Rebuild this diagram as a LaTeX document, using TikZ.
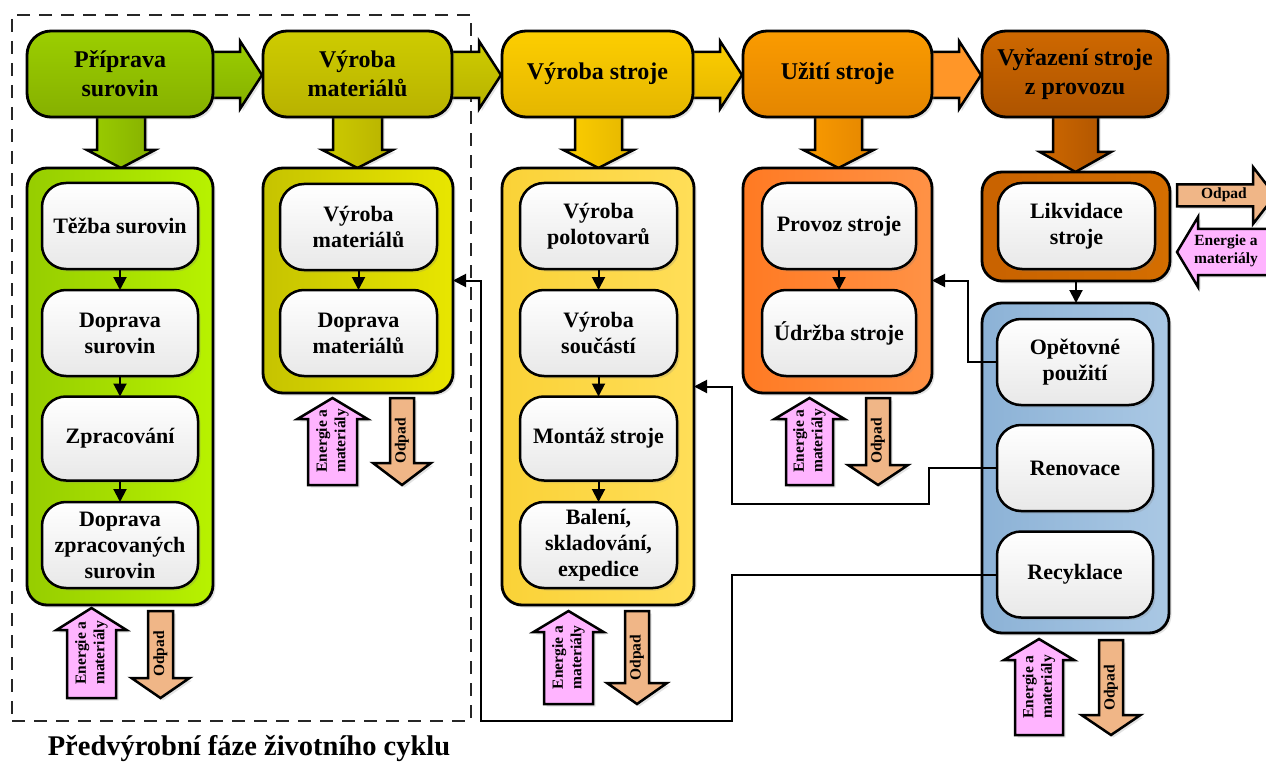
\documentclass[tikz,border=0pt]{standalone}
\usepackage{fontspec}
\setmainfont{Liberation Serif}
\usetikzlibrary{shadows,arrows.meta}
\definecolor{gA1}{RGB}{155,206,0}\definecolor{gA2}{RGB}{134,176,0}
\definecolor{gP1}{RGB}{150,205,0}\definecolor{gP2}{RGB}{184,242,0}
\definecolor{gAr}{RGB}{140,188,0}
\definecolor{oA1}{RGB}{206,204,0}\definecolor{oA2}{RGB}{184,178,0}
\definecolor{oP1}{RGB}{198,195,0}\definecolor{oP2}{RGB}{232,230,0}
\definecolor{oAr}{RGB}{192,188,0}
\definecolor{yA1}{RGB}{253,206,0}\definecolor{yA2}{RGB}{228,182,0}
\definecolor{yP1}{RGB}{250,210,55}\definecolor{yP2}{RGB}{255,222,88}
\definecolor{yAr}{RGB}{236,192,0}
\definecolor{uA1}{RGB}{250,155,0}\definecolor{uA2}{RGB}{228,134,0}
\definecolor{uP1}{RGB}{255,122,35}\definecolor{uP2}{RGB}{255,146,70}
\definecolor{uAr}{RGB}{255,150,40}
\definecolor{rA1}{RGB}{206,104,0}\definecolor{rA2}{RGB}{174,84,0}
\definecolor{rP1}{RGB}{200,98,0}\definecolor{rP2}{RGB}{212,110,0}
\definecolor{bP1}{RGB}{140,178,214}\definecolor{bP2}{RGB}{170,200,228}
\definecolor{pinkc}{RGB}{255,180,255}
\definecolor{odpc}{RGB}{240,182,135}
\newcommand\blockV[7]{\draw[#7] ({#1-#2},#4) -- ({#1+#2},#4) -- ({#1+#2},#5) -- ({#1+#3},#5) -- (#1,#6) -- ({#1-#3},#5) -- ({#1-#2},#5) -- cycle;}
\newcommand\blockH[7]{\draw[#7] (#4,{#1-#2}) -- (#4,{#1+#2}) -- (#5,{#1+#2}) -- (#5,{#1+#3}) -- (#6,#1) -- (#5,{#1-#3}) -- (#5,{#1-#2}) -- cycle;}
\begin{document}
\begin{tikzpicture}[x=1pt,y=-1pt,
  every node/.style={inner sep=0pt,outer sep=0pt},
  shd/.style={drop shadow={opacity=0.22,shadow xshift=2.5pt,shadow yshift=-2.5pt}},
  hdr/.style={draw,line width=2.8pt,rounded corners=24pt,align=center,font=\fontsize{24}{29}\selectfont\bfseries,minimum height=86pt,shd},
  panel/.style={draw,line width=2.8pt,rounded corners=20pt,shd},
  ibox/.style={draw,line width=2.5pt,rounded corners=24pt,top color=white,bottom color=black!9,align=center,font=\fontsize{22}{26}\selectfont\bfseries,minimum width=156pt,minimum height=86pt,shd},
  blk/.style={draw,line width=2.5pt,shd},
  flow/.style={line width=2pt,-{Triangle[length=13pt,width=13pt]}},
  small/.style={font=\fontsize{15.5}{18.5}\selectfont\bfseries,align=center},
  frame/.style={draw=black!85,line width=1.8pt,dash pattern=on 13pt off 9pt}
]
\useasboundingbox (0,0) rectangle (1266,762);
% pre-production frame
\node[frame,minimum width=459pt,minimum height=706pt] (phase) at (241.5,368) {};
% arrows between headers
\blockH{75}{23}{34}{205}{240}{262}{blk,top color=gA1,bottom color=gA2}
\blockH{75}{23}{34}{445}{479}{501}{blk,top color=oA1,bottom color=oA2}
\blockH{75}{23}{34}{686}{720}{742}{blk,top color=yA1,bottom color=yA2}
\blockH{75}{23}{34}{925}{959}{981}{blk,fill=uAr}
% arrows headers -> panels
\blockV{121}{24}{34}{110}{150}{168}{blk,left color=gA1,right color=gA2}
\blockV{357.5}{24.5}{35}{110}{150}{168}{blk,left color=oA1,right color=oA2}
\blockV{598.5}{23.5}{35}{110}{150}{168}{blk,left color=yA1,right color=yA2}
\blockV{838.5}{23.5}{35}{110}{150}{168}{blk,left color=uA1,right color=uA2}
\blockV{1075.5}{22.5}{35.5}{110}{152}{172}{blk,left color=rA1,right color=rA2}
% headers
\node[hdr,minimum width=186pt,top color=gA1,bottom color=gA2] (h1) at (120,74) {Příprava\\surovin};
\node[hdr,minimum width=189pt,top color=oA1,bottom color=oA2] (h2) at (357.5,74) {Výroba\\materiálů};
\node[hdr,minimum width=191pt,top color=yA1,bottom color=yA2] (h3) at (597.5,74) {Výroba stroje};
\node[hdr,minimum width=189pt,top color=uA1,bottom color=uA2] (h4) at (837.5,74) {Užití stroje};
\node[hdr,minimum width=186pt,top color=rA1,bottom color=rA2] (h5) at (1075,74) {Vyřazení stroje\\z provozu};
% panels
\node[panel,minimum width=186pt,minimum height=437pt,left color=gP1,right color=gP2] (prepP) at (120,386.5) {};
\node[panel,minimum width=190pt,minimum height=225pt,left color=oP1,right color=oP2] (vmP) at (358,280.5) {};
\node[panel,minimum width=192pt,minimum height=437pt,left color=yP1,right color=yP2] (vsP) at (598,386.5) {};
\node[panel,minimum width=189pt,minimum height=225pt,left color=uP1,right color=uP2] (uzP) at (837.5,280.5) {};
\node[panel,minimum width=188pt,minimum height=109pt,left color=rP1,right color=rP2] (vyrP) at (1076,226.5) {};
\node[panel,minimum width=187pt,minimum height=330pt,left color=bP1,right color=bP2] (blueP) at (1075.5,468) {};
% inner boxes
\node[ibox] (p1) at (120,226) {Těžba surovin};
\node[ibox] (p2) at (120,333) {Doprava\\surovin};
\node[ibox,minimum height=84pt] (p3) at (120,438.5) {Zpracování};
\node[ibox] (p4) at (120,545) {Doprava\\zpracovaných\\surovin};
\node[ibox,minimum width=157pt] (m1) at (358.5,227) {Výroba\\materiálů};
\node[ibox,minimum width=157pt] (m2) at (358.5,333) {Doprava\\materiálů};
\node[ibox,minimum width=157pt] (s1) at (598.5,226) {Výroba\\polotovarů};
\node[ibox,minimum width=157pt] (s2) at (598.5,333) {Výroba\\součástí};
\node[ibox,minimum width=157pt,minimum height=84pt] (s3) at (598.5,438.5) {Montáž stroje};
\node[ibox,minimum width=157pt] (s4) at (598.5,545) {Balení,\\skladování,\\expedice};
\node[ibox,minimum width=154pt] (u1) at (839,226) {Provoz stroje};
\node[ibox,minimum width=154pt] (u2) at (839,333) {Údržba stroje};
\node[ibox,minimum width=157pt] (lik) at (1076.5,226) {Likvidace\\stroje};
\node[ibox] (opet) at (1075,362) {Opětovné\\použití};
\node[ibox] (ren) at (1075,468) {Renovace};
\node[ibox] (rec) at (1075,574.5) {Recyklace};
% flows inside panels
\draw[flow] (p1) -- (p2);
\draw[flow] (p2) -- (p3);
\draw[flow] (p3) -- (p4);
\draw[flow] (m1) -- (m2);
\draw[flow] (s1) -- (s2);
\draw[flow] (s2) -- (s3);
\draw[flow] (s3) -- (s4);
\draw[flow] (u1) -- (u2);
\draw[flow] (vyrP.south) -- (vyrP.south |- blueP.north);
% energy / waste arrows
\blockV{91.5}{24.5}{35}{698}{630}{608}{blk,fill=pinkc}
\blockV{160.5}{12.5}{29}{611}{678}{698}{blk,fill=odpc}
\node[small,rotate=90] (e1) at (91.5,653) {Energie a\\materiály};
\node[small,rotate=90] (o1) at (160.5,654) {Odpad};
\blockV{332.5}{24.5}{35}{485}{419}{398}{blk,fill=pinkc}
\blockV{402}{12}{29}{398}{463}{485}{blk,fill=odpc}
\node[small,rotate=90] (e2) at (332.5,441) {Energie a\\materiály};
\node[small,rotate=90] (o2) at (402,441) {Odpad};
\blockV{568.5}{24.5}{35}{704}{632}{611}{blk,fill=pinkc}
\blockV{637}{12}{30}{611}{683}{704}{blk,fill=odpc}
\node[small,rotate=90] (e3) at (568.5,657.5) {Energie a\\materiály};
\node[small,rotate=90] (o3) at (637,657.5) {Odpad};
\blockV{809.5}{23.5}{35}{485}{419}{398}{blk,fill=pinkc}
\blockV{878}{12}{30}{398}{465}{485}{blk,fill=odpc}
\node[small,rotate=90] (e4) at (809.5,441) {Energie a\\materiály};
\node[small,rotate=90] (o4) at (878,441) {Odpad};
\blockV{1039}{24}{35}{735}{660}{639}{blk,fill=pinkc}
\blockV{1111}{12}{29.5}{640}{715}{735}{blk,fill=odpc}
\node[small,rotate=90] (e5) at (1039,687) {Energie a\\materiály};
\node[small,rotate=90] (o5) at (1111,688) {Odpad};
\blockH{195.5}{11}{28.5}{1177}{1253}{1275}{blk,fill=odpc}
\blockH{252}{23}{35}{1295}{1198}{1177}{blk,fill=pinkc}
\node[small] (o6) at (1224,195) {Odpad};
\node[small] (e6) at (1226,251) {Energie a\\materiály};
% feedback connectors
\coordinate (rc) at (732,721);
\coordinate (rb) at (481,721);
\draw[flow] (rec.west) -| (rc) -- (rb) |- (vmP.east);
\coordinate (nc) at (929,504);
\coordinate (nb) at (732,504);
\draw[flow] (ren.west) -| (nc) -- (nb) |- (vsP.east);
\coordinate (oc) at (968,362);
\draw[flow] (opet.west) -- (oc) |- (uzP.east);
% label
\node[font=\fontsize{28.5}{31}\selectfont\bfseries] (lbl) at (249,749) {Předvýrobní fáze životního cyklu};
\end{tikzpicture}
\end{document}
